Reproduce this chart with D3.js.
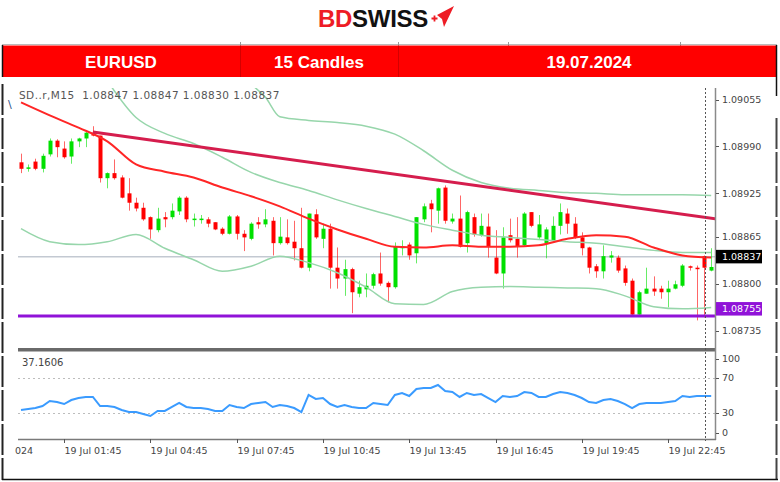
<!DOCTYPE html>
<html>
<head>
<meta charset="utf-8">
<script src="https://cdn.jsdelivr.net/npm/d3@7"></script>
<style>
  body { margin: 0; background: #fff; }
  svg { display: block; font-family: "DejaVu Sans", Tahoma, sans-serif; }
</style>
</head>
<body>
<svg id="chart" width="780" height="482"></svg>
<script>
// header cells
const headerCells = ["EURUSD", "15 Candles", "19.07.2024"];
const headerCenters = [121, 319, 589];
const chartTitle = "SD..r,M15  1.08847 1.08847 1.08830 1.08837";

// EURUSD M15 candles, 19 Jul 2024 from 00:15 -> [open, high, low, close]
const candles = [
  [1.08968,1.08980,1.08953,1.08959],[1.08959,1.08965,1.08955,1.08961],[1.08969,1.08973,1.08957,1.08959],
  [1.08959,1.08980,1.08954,1.08977],[1.08979,1.09001,1.08976,1.08998],[1.08998,1.09000,1.08975,1.08989],
  [1.08987,1.08997,1.08973,1.08975],[1.08976,1.09001,1.08966,1.08997],[1.08997,1.09002,1.08989,1.09001],
  [1.09001,1.09012,1.08989,1.09009],[1.09009,1.09018,1.09004,1.09005],[1.09005,1.09005,1.08940,1.08946],
  [1.08946,1.08954,1.08932,1.08953],[1.08953,1.08972,1.08944,1.08946],[1.08947,1.08950,1.08918,1.08919],
  [1.08925,1.08946,1.08901,1.08912],[1.08912,1.08919,1.08900,1.08904],[1.08905,1.08912,1.08887,1.08889],
  [1.08892,1.08893,1.08862,1.08875],[1.08874,1.08905,1.08871,1.08890],[1.08892,1.08899,1.08878,1.08889],
  [1.08892,1.08911,1.08889,1.08901],[1.08900,1.08921,1.08895,1.08919],[1.08919,1.08921,1.08885,1.08889],
  [1.08889,1.08897,1.08879,1.08890],[1.08889,1.08895,1.08883,1.08890],[1.08889,1.08892,1.08878,1.08883],
  [1.08885,1.08885,1.08874,1.08875],[1.08876,1.08878,1.08867,1.08869],[1.08869,1.08895,1.08868,1.08893],
  [1.08893,1.08895,1.08861,1.08869],[1.08869,1.08874,1.08845,1.08864],[1.08862,1.08885,1.08860,1.08883],
  [1.08885,1.08892,1.08876,1.08882],[1.08882,1.08903,1.08878,1.08889],[1.08887,1.08892,1.08839,1.08856],
  [1.08856,1.08892,1.08854,1.08865],[1.08864,1.08889,1.08854,1.08856],[1.08858,1.08887,1.08832,1.08849],
  [1.08849,1.08905,1.08821,1.08822],[1.08822,1.08897,1.08817,1.08897],[1.08896,1.08903,1.08862,1.08864],
  [1.08862,1.08883,1.08849,1.08876],[1.08876,1.08883,1.08793,1.08822],[1.08822,1.08850,1.08793,1.08807],
  [1.08807,1.08833,1.08783,1.08820],[1.08820,1.08822,1.08759,1.08788],[1.08786,1.08804,1.08781,1.08795],
  [1.08792,1.08814,1.08781,1.08797],[1.08797,1.08815,1.08793,1.08813],[1.08814,1.08843,1.08797,1.08800],
  [1.08801,1.08803,1.08774,1.08795],[1.08795,1.08857,1.08793,1.08851],[1.08849,1.08860,1.08839,1.08851],
  [1.08854,1.08857,1.08833,1.08839],[1.08842,1.08892,1.08828,1.08892],[1.08889,1.08911,1.08885,1.08907],
  [1.08911,1.08916,1.08871,1.08903],[1.08901,1.08933,1.08883,1.08932],[1.08933,1.08936,1.08883,1.08887],
  [1.08886,1.08897,1.08883,1.08890],[1.08890,1.08922,1.08850,1.08851],[1.08856,1.08901,1.08843,1.08899],
  [1.08892,1.08897,1.08865,1.08868],[1.08867,1.08897,1.08865,1.08880],[1.08879,1.08897,1.08836,1.08851],
  [1.08836,1.08874,1.08813,1.08814],[1.08814,1.08878,1.08793,1.08864],[1.08867,1.08890,1.08857,1.08860],
  [1.08862,1.08892,1.08836,1.08851],[1.08853,1.08899,1.08851,1.08897],[1.08899,1.08899,1.08878,1.08880],
  [1.08864,1.08895,1.08862,1.08882],[1.08856,1.08878,1.08835,1.08875],[1.08860,1.08893,1.08858,1.08880],
  [1.08880,1.08911,1.08868,1.08899],[1.08897,1.08904,1.08869,1.08883],[1.08883,1.08892,1.08862,1.08864],
  [1.08864,1.08871,1.08839,1.08849],[1.08850,1.08851,1.08814,1.08822],[1.08824,1.08827,1.08808,1.08817],
  [1.08817,1.08853,1.08807,1.08838],[1.08836,1.08845,1.08829,1.08839],[1.08836,1.08839,1.08815,1.08818],
  [1.08821,1.08825,1.08797,1.08801],[1.08804,1.08807,1.08756,1.08757],[1.08757,1.08790,1.08756,1.08788],
  [1.08786,1.08822,1.08786,1.08793],[1.08793,1.08810,1.08783,1.08789],[1.08793,1.08797,1.08779,1.08788],
  [1.08788,1.08804,1.08767,1.08793],[1.08793,1.08804,1.08792,1.08799],[1.08797,1.08827,1.08795,1.08825],
  [1.08824,1.08825,1.08818,1.08822],[1.08822,1.08825,1.08749,1.08820],[1.08838,1.08839,1.08753,1.08822],
  [1.08818,1.08849,1.08817,1.08823]
];

// red moving average, [bar, price]
const maLine = [
  [0,1.09051],[4,1.09033],[8,1.09016],[12,1.08997],[16,1.08965],[20,1.08955],[24,1.08947],
  [28,1.08933],[32,1.08921],[36,1.08907],[40,1.08890],[44,1.08875],[48,1.08862],[52,1.08851],
  [56,1.08850],[60,1.08853],[64,1.08851],[68,1.08851],[72,1.08853],[76,1.08862],[80,1.08867],
  [84,1.08865],[88,1.08850],[92,1.08839],[96,1.08836]
];

// bollinger bands, [bar, price]
const bbUpper = [
  [32,1.09076],[34,1.09058],[36,1.09031],[40,1.09026],[44,1.09023],[48,1.09018],[52,1.09007],
  [56,1.08984],[60,1.08957],[64,1.08940],[68,1.08932],[72,1.08929],[76,1.08926],[80,1.08925],
  [84,1.08923],[88,1.08923],[92,1.08923],[96,1.08922]
];
const bbMid = [
  [12,1.09081],[16,1.09030],[20,1.09008],[24,1.08994],[28,1.08975],[32,1.08954],[36,1.08940],
  [40,1.08929],[44,1.08916],[48,1.08904],[52,1.08893],[56,1.08882],[60,1.08874],[64,1.08867],
  [68,1.08864],[72,1.08861],[76,1.08858],[80,1.08856],[84,1.08851],[88,1.08846],[92,1.08843],[96,1.08843]
];
const bbLower = [
  [0,1.08876],[4,1.08858],[8,1.08854],[12,1.08858],[16,1.08868],[20,1.08849],[24,1.08833],
  [28,1.08817],[32,1.08824],[36,1.08838],[40,1.08829],[44,1.08815],[48,1.08795],[52,1.08772],
  [56,1.08771],[60,1.08789],[64,1.08795],[68,1.08796],[72,1.08795],[76,1.08794],[80,1.08793],
  [84,1.08783],[88,1.08768],[92,1.08765],[96,1.08767]
];

// descending trend line, [bar, price]
const trendLine = [[10, 1.09010], [97, 1.08889]];
const bidPrice = 1.08837;
const supportPrice = 1.08755;

// RSI per bar
const rsi = [
  33.3,34.5,35.6,37.9,43.7,42.5,40.2,44.8,47.1,48.3,
  48.3,37.9,37.9,36.8,33.3,31.0,31.0,28.7,26.4,32.2,
  32.2,36.8,41.4,36.8,35.6,35.6,34.5,32.2,32.2,39.1,
  36.8,35.6,40.2,41.4,42.5,36.8,39.1,37.9,35.6,31.0,
  50.6,46.0,47.1,40.2,36.8,39.1,36.8,35.6,35.6,41.4,
  40.2,39.1,50.6,52.9,49.4,57.5,58.6,58.6,62.1,55.2,
  54.0,48.3,52.9,50.6,51.7,47.1,42.5,49.4,48.3,49.4,
  54.0,52.9,48.3,48.3,51.7,54.0,52.9,50.6,47.1,42.5,
  41.4,44.8,46.0,43.7,40.2,35.6,40.2,41.4,41.4,41.4,
  42.5,43.7,49.4,48.3,49.4,49.4,49.4
];
const rsiLabel = "37.1606";

// axis ticks
const priceTicks = [1.09055, 1.08990, 1.08925, 1.08865, 1.08800, 1.08735];
const rsiTicks = [100, 70, 30, 0];
const rsiLevels = [70, 30];
const timeTickBars = [6, 18, 30, 42, 54, 66, 78, 90];
const timeTickLabels = ["19 Jul 01:45", "19 Jul 04:45", "19 Jul 07:45", "19 Jul 10:45",
                        "19 Jul 13:45", "19 Jul 16:45", "19 Jul 19:45", "19 Jul 22:45"];
const firstDateTail = "024";   // tail of the first date label, cut by the left edge

const svg = d3.select("#chart");

// layout
const plotL = 18, plotR = 715, mainT = 88, mainB = 348, rsiT = 352, rsiB = 439;
const bull = "#00e000", bear = "#ff0000";

const x = d3.scaleLinear().domain([0, candles.length - 1]).range([21, 711.2]);
const y = d3.scaleLinear().domain([1.08735, 1.09055]).range([330.5, 99.5]);
const yr = d3.scaleLinear().domain([0, 100]).range([rsiB, rsiT]);

const defs = svg.append("defs");
defs.append("clipPath").attr("id", "clipMain").append("rect")
  .attr("x", plotL).attr("y", mainT).attr("width", plotR - plotL).attr("height", mainB - mainT);
defs.append("clipPath").attr("id", "clipRsi").append("rect")
  .attr("x", plotL).attr("y", rsiT).attr("width", plotR - plotL).attr("height", rsiB - rsiT);

// ---- logo
const logo = svg.append("text").attr("x", 318).attr("y", 27)
  .style("font-family", "'Liberation Sans', Arial, sans-serif")
  .style("font-weight", 900).style("font-size", "24px").style("letter-spacing", "-0.3px");
logo.append("tspan").attr("fill", "#ee1c25").text("BD");
logo.append("tspan").attr("fill", "#111").text("SWISS");
svg.append("path").attr("d", "M437,15 L454,6 L444,27 L442,19 Z").attr("fill", "#ee1c25");
svg.append("path").attr("d", "M431.5,18.5 h6 M434.5,15.5 v6").attr("stroke", "#ee1c25").attr("stroke-width", 1.8);

// ---- header bar
svg.append("line").attr("x1", 2).attr("x2", 777).attr("y1", 44.5).attr("y2", 44.5)
  .attr("stroke", "#bbb");
[240, 398, 508, 680].forEach(cx => {
  svg.append("line").attr("x1", cx + 0.5).attr("x2", cx + 0.5).attr("y1", 42).attr("y2", 46)
    .attr("stroke", "#999");
});
svg.append("rect").attr("x", 3).attr("y", 45.5).attr("width", 773).attr("height", 31.5).attr("fill", "#ff0000");
[240, 398].forEach(cx => {
  svg.append("line").attr("x1", cx + 0.5).attr("x2", cx + 0.5).attr("y1", 46).attr("y2", 77)
    .attr("stroke", "#d40000");
});
svg.selectAll("text.head").data(headerCells).join("text")
  .attr("class", "head")
  .attr("x", (d, i) => headerCenters[i]).attr("y", 67.5)
  .attr("text-anchor", "middle").attr("fill", "#fff")
  .style("font-family", "'Liberation Sans', Arial, sans-serif")
  .style("font-weight", "bold").style("font-size", "17px")
  .text(d => d);

// frame
svg.append("line").attr("x1", 2.5).attr("x2", 2.5).attr("y1", 45).attr("y2", 77)
  .attr("stroke", "#111").attr("stroke-width", 1.5);
svg.append("line").attr("x1", 776.5).attr("x2", 776.5).attr("y1", 45).attr("y2", 96)
  .attr("stroke", "#111").attr("stroke-width", 1.5);
d3.range(84, 478, 34).forEach(s => {
  svg.append("line").attr("x1", 2.5).attr("x2", 2.5).attr("y1", s).attr("y2", Math.min(s + 31, 480))
    .attr("stroke", "#222").attr("stroke-width", 2);
  if (s > 96) svg.append("line").attr("x1", 776.5).attr("x2", 776.5).attr("y1", s).attr("y2", Math.min(s + 31, 480))
    .attr("stroke", "#444").attr("stroke-width", 2);
});
svg.append("line").attr("x1", 2).attr("x2", 778).attr("y1", 479.5).attr("y2", 479.5)
  .attr("stroke", "#111").attr("stroke-width", 1.5);

// ---- main panel
const main = svg.append("g").attr("clip-path", "url(#clipMain)");

main.append("line").attr("x1", plotL).attr("x2", plotR).attr("y1", y(bidPrice)).attr("y2", y(bidPrice))
  .attr("stroke", "#c3c9d2").attr("stroke-width", 1.5);

const cg = main.selectAll("g.candle").data(candles).join("g").attr("class", "candle");
cg.append("line")
  .attr("x1", (d, i) => Math.round(x(i)) + 0.5).attr("x2", (d, i) => Math.round(x(i)) + 0.5)
  .attr("y1", d => y(d[1])).attr("y2", d => y(d[2]))
  .attr("stroke", d => d[3] >= d[0] ? bull : bear).attr("stroke-opacity", 0.6);
cg.append("rect")
  .attr("x", (d, i) => Math.round(x(i)) - 1.5).attr("width", 4)
  .attr("y", d => y(Math.max(d[0], d[3])))
  .attr("height", d => Math.max(1.5, y(Math.min(d[0], d[3])) - y(Math.max(d[0], d[3]))))
  .attr("fill", d => d[3] >= d[0] ? bull : bear);

const pline = d3.line().x(d => x(d[0])).y(d => y(d[1])).curve(d3.curveMonotoneX);
[bbUpper, bbMid, bbLower].forEach(b => {
  main.append("path").attr("d", pline(b)).attr("fill", "none")
    .attr("stroke", "#97d6ab").attr("stroke-width", 1.5);
});
main.append("path").attr("d", pline(maLine)).attr("fill", "none")
  .attr("stroke", "#ff2626").attr("stroke-width", 2);
main.append("path").attr("d", d3.line().x(d => x(d[0])).y(d => y(d[1]))(trendLine))
  .attr("fill", "none").attr("stroke", "#d51d4d").attr("stroke-width", 3);
main.append("line").attr("x1", plotL).attr("x2", plotR).attr("y1", y(supportPrice)).attr("y2", y(supportPrice))
  .attr("stroke", "#9013d8").attr("stroke-width", 3);

svg.append("text").attr("x", 8).attr("y", 108).attr("fill", "#2b4f86")
  .style("font-size", "11px").text("\\");
svg.append("text").attr("x", 19).attr("y", 99).attr("fill", "#555")
  .style("font-size", "10.5px").style("letter-spacing", "0.45px").style("white-space", "pre")
  .attr("xml:space", "preserve").text(chartTitle);

// ---- RSI panel
svg.append("rect").attr("x", plotL).attr("y", 348).attr("width", plotR - plotL + 1).attr("height", 3.5)
  .attr("fill", "#6a6a6a");
const rp = svg.append("g").attr("clip-path", "url(#clipRsi)");
rsiLevels.forEach(v => {
  rp.append("line").attr("x1", plotL).attr("x2", plotR).attr("y1", Math.round(yr(v)) + 0.5).attr("y2", Math.round(yr(v)) + 0.5)
    .attr("stroke", "#bdbdbd").attr("stroke-dasharray", "2,3");
});
rp.append("path").datum(rsi)
  .attr("d", d3.line().x((d, i) => x(i)).y(d => yr(d)))
  .attr("fill", "none").attr("stroke", "#3a9bff").attr("stroke-width", 2);
svg.append("text").attr("x", 22).attr("y", 365.5).attr("fill", "#444")
  .style("font-size", "10px").text(rsiLabel);

// ---- axes
svg.append("line").attr("x1", 715.5).attr("x2", 715.5).attr("y1", mainT).attr("y2", rsiB + 1)
  .attr("stroke", "#8a8a8a").attr("stroke-width", 1.5);
svg.append("line").attr("x1", plotL).attr("x2", 716).attr("y1", 439.5).attr("y2", 439.5)
  .attr("stroke", "#7a7a7a").attr("stroke-width", 1.5);
svg.append("line").attr("x1", 705.5).attr("x2", 705.5).attr("y1", mainT).attr("y2", 441)
  .attr("stroke", "#555").attr("stroke-dasharray", "2,2");

const pa = svg.append("g").style("font-size", "9.5px");
priceTicks.forEach(p => {
  pa.append("line").attr("x1", 716).attr("x2", 719).attr("y1", Math.round(y(p)) + 0.5).attr("y2", Math.round(y(p)) + 0.5)
    .attr("stroke", "#555");
  pa.append("text").attr("x", 722).attr("y", y(p)).attr("dy", "0.35em").attr("fill", "#444")
    .text(d3.format(".5f")(p));
});
// bid and support price boxes
pa.append("rect").attr("x", 716).attr("y", y(bidPrice) - 7).attr("width", 46).attr("height", 13.5).attr("fill", "#000");
pa.append("text").attr("x", 722).attr("y", y(bidPrice)).attr("dy", "0.35em").attr("fill", "#fff")
  .text(d3.format(".5f")(bidPrice));
pa.append("rect").attr("x", 716).attr("y", y(supportPrice) - 14).attr("width", 46).attr("height", 13.5).attr("fill", "#9013d8");
pa.append("text").attr("x", 722).attr("y", y(supportPrice) - 7).attr("dy", "0.35em").attr("fill", "#fff")
  .text(d3.format(".5f")(supportPrice));

rsiTicks.forEach(v => {
  const ty = Math.max(359, Math.min(433, yr(v)));
  pa.append("line").attr("x1", 716).attr("x2", 719).attr("y1", Math.round(ty) + 0.5).attr("y2", Math.round(ty) + 0.5)
    .attr("stroke", "#555");
  pa.append("text").attr("x", 722).attr("y", ty).attr("dy", "0.35em").attr("fill", "#444").text(v);
});

const ta = svg.append("g").style("font-size", "9.5px");
timeTickBars.forEach((b, i) => {
  const tx = Math.round(x(b)) + 0.5;
  ta.append("line").attr("x1", tx).attr("x2", tx).attr("y1", 439).attr("y2", 443).attr("stroke", "#555");
  ta.append("text").attr("x", tx).attr("y", 454).attr("fill", "#444").text(timeTickLabels[i]);
});
ta.append("text").attr("x", 15).attr("y", 454).attr("fill", "#444").text(firstDateTail);
</script>
</body>
</html>
